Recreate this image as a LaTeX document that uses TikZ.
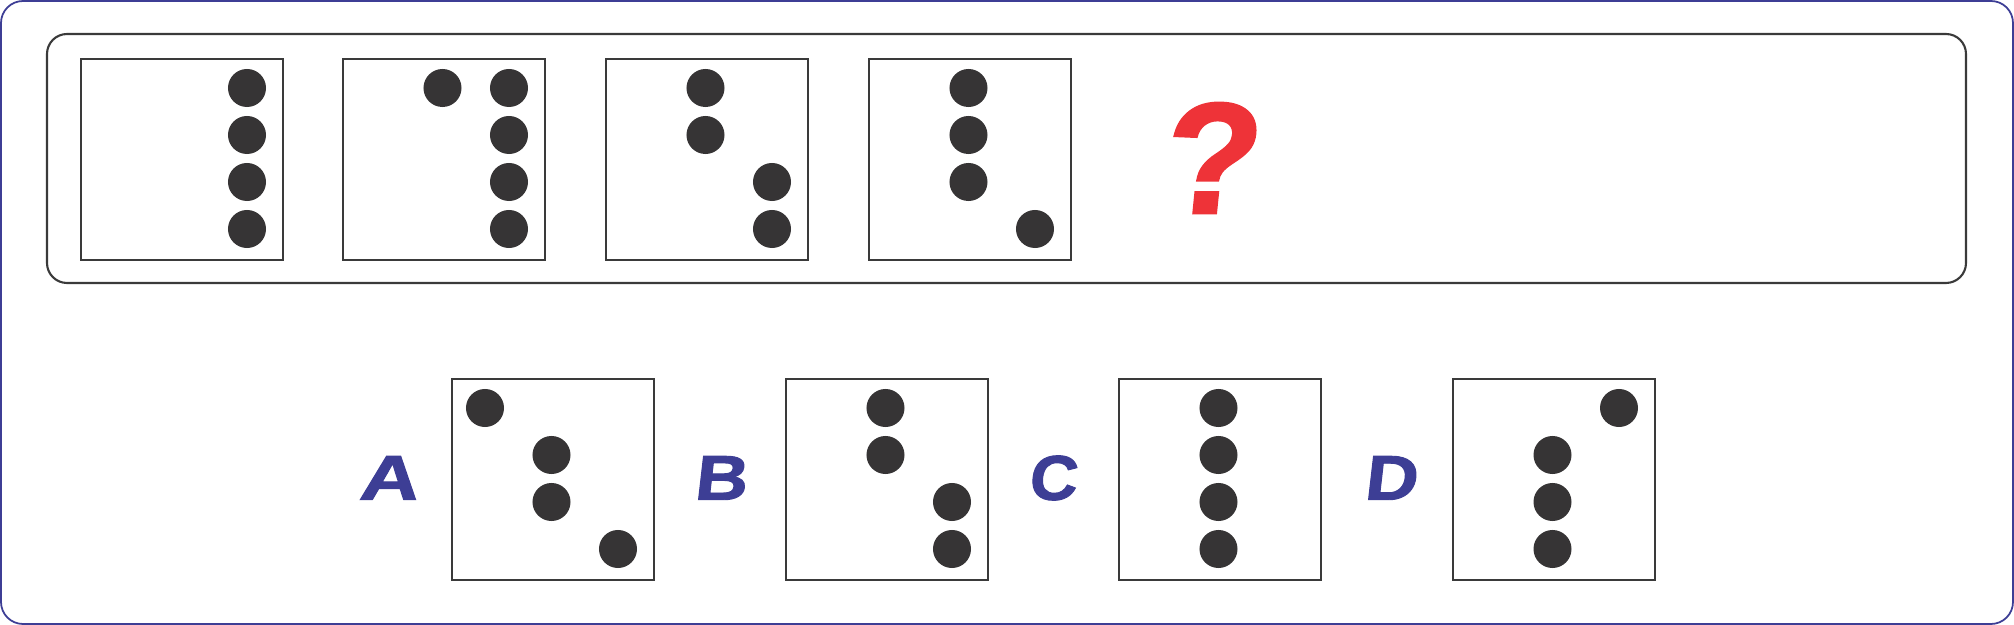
\documentclass[tikz,border=0pt]{standalone}
\usepackage{fontspec}
\setmainfont{Liberation Sans}
\newfontfamily\tagfont[FakeSlant=0.1,FakeBold=1.5]{Liberation Sans Bold}
\definecolor{framblue}{HTML}{3D3E95}
\definecolor{pipgrey}{HTML}{363435}
\definecolor{linegrey}{HTML}{3A3A3A}
\definecolor{askred}{HTML}{EE3338}
\tikzset{
	panelbox/.style={draw=linegrey, line width=0.6pt, anchor=north west, inner sep=0pt, minimum width=2.02cm, minimum height=2.01cm},
	pip/.style={fill=pipgrey},
	letter/.style={text=framblue, font=\fontsize{18}{18}\selectfont\tagfont, inner sep=0pt}
}
\newcommand{\panel}[4]{%
	\node[panelbox] (#1) at (#2,#3) {};
	\foreach \c/\r in {#4} \fill[pip] (#2+34+66.5*\c, #3+30+47*\r) circle[radius=0.19cm];
}
\begin{document}
\begin{tikzpicture}[x=0.01cm, y=-0.01cm]
		\useasboundingbox (0,0) rectangle (2014,625);
		
		\draw[framblue, line width=0.5pt, rounded corners=0.22cm] (1,1) rectangle (2013,624);
		\draw[linegrey, line width=0.6pt, rounded corners=0.2cm] (47,34) rectangle (1966,283);
		
		\panel{q1}{80}{58}{2/0, 2/1, 2/2, 2/3}
		\panel{q2}{342}{58}{1/0, 2/0, 2/1, 2/2, 2/3}
		\panel{q3}{605}{58}{1/0, 1/1, 2/2, 2/3}
		\panel{q4}{868}{58}{1/0, 1/1, 1/2, 2/3}
		
		\node[text=askred, font=\fontsize{30}{30}\selectfont\tagfont, inner sep=0pt] (ask) at (1208,158) {\scalebox{1.5}[1.5]{?}};
		
		\panel{a}{451}{378}{0/0, 1/1, 1/2, 2/3}
		\panel{b}{785}{378}{1/0, 1/1, 2/2, 2/3}
		\panel{c}{1118}{378}{1/0, 1/1, 1/2, 1/3}
		\panel{d}{1452}{378}{2/0, 1/1, 1/2, 1/3}
		
		\node[letter] (labA) at (388,478) {\scalebox{1.3}[1]{A}};
		\node[letter] (labB) at (720,478) {\scalebox{1.15}[1]{B}};
		\node[letter] (labC) at (1052,478) {\scalebox{1.05}[1]{C}};
		\node[letter] (labD) at (1390,478) {\scalebox{1.15}[1]{D}};
	\end{tikzpicture}
\end{document}
